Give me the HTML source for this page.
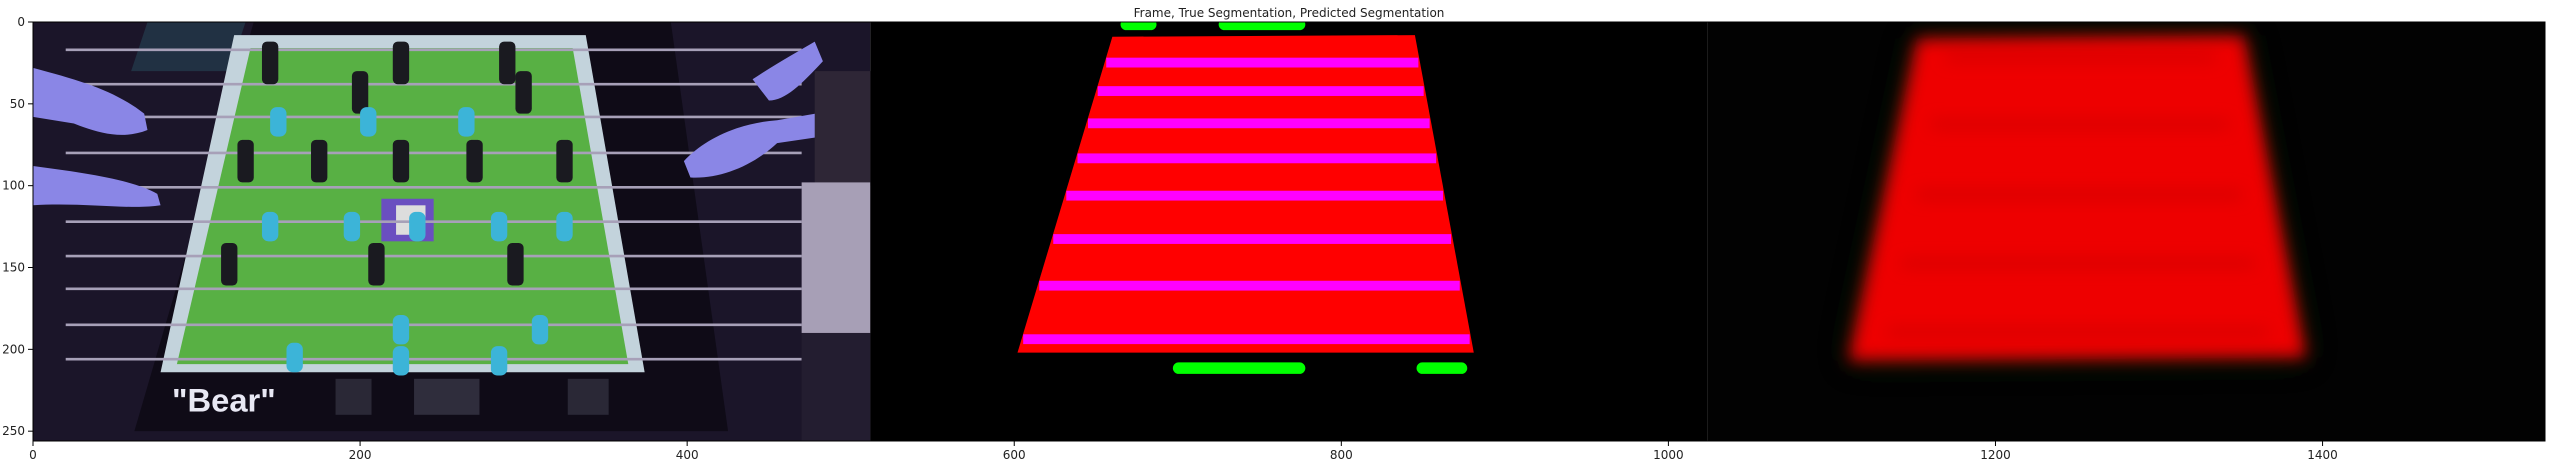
<!DOCTYPE html>
<html><head><meta charset="utf-8"><style>
html,body{margin:0;padding:0;background:#fff;}
svg{display:block;font-family:"DejaVu Sans","Liberation Sans",sans-serif;}
</style></head><body>
<svg id="fig" width="2554" height="465" viewBox="0 0 2554 465">
<defs>
<filter id="blur6" x="-20%" y="-20%" width="140%" height="140%"><feGaussianBlur stdDeviation="5"/></filter>
<filter id="blur12" x="-30%" y="-30%" width="160%" height="160%"><feGaussianBlur stdDeviation="10"/></filter>
<clipPath id="clipImg"><rect x="0" y="0" width="1536" height="256"/></clipPath>
</defs>
<text x="1289" y="17" text-anchor="middle" font-size="12" fill="#222">Frame, True Segmentation, Predicted Segmentation</text>
<g id="img" transform="translate(33,22) scale(1.6354,1.6367)" clip-path="url(#clipImg)">
  <g>
    <rect x="0" y="0" width="512" height="256" fill="#1b1529"/>
    <polygon points="70,0 130,0 120,30 60,30" fill="#23384a" opacity="0.8"/>
    <polygon points="135,0 390,0 425,250 62,250" fill="#0f0b17"/>
    <polygon points="123,8 338,8 374,214 78,214" fill="#c3d3dc"/>
    <polygon points="133,16 330,16 364,209 88,209" fill="#58b044"/>
    <rect x="213" y="108" width="32" height="26" fill="#6a4fc0"/>
    <rect x="222" y="112" width="18" height="18" fill="#ddd"/>
    <g id="rods"></g>
    <g id="figs"></g>
    <text x="85" y="238" font-size="20" font-weight="bold" fill="#e8e8f4" font-family="Liberation Sans, sans-serif">"Bear"</text>
    <rect x="185" y="218" width="22" height="22" fill="#2a2836"/>
    <rect x="233" y="218" width="40" height="22" fill="#2f2d3c"/>
    <rect x="327" y="218" width="25" height="22" fill="#2a2836"/>
    <path d="M0,28 C30,36 50,42 68,56 L70,66 C55,72 40,68 25,62 L0,58 Z" fill="#8a86e6"/>
    <path d="M0,88 C30,92 60,96 76,105 L78,112 C60,115 30,110 0,112 Z" fill="#8a86e6"/>
    <path d="M398,85 C410,72 430,62 455,60 L490,54 L496,68 L455,74 C440,88 420,96 402,95 Z" fill="#8a86e6"/>
    <path d="M440,35 C455,25 468,18 478,12 L483,24 C470,38 460,48 450,48 Z" fill="#8a86e6"/>
    <rect x="478" y="30" width="34" height="70" fill="#2e2636"/>
    <rect x="470" y="98" width="42" height="92" fill="#a79fb6"/>
    <rect x="470" y="190" width="42" height="66" fill="#231d30"/>
  </g>
  <g>
    <rect x="512" y="0" width="512" height="256" fill="#000"/>
    <polygon id="truePoly" fill="#ff0000"/>
    <g id="stripes"></g>
    <g id="blobs"></g>
  </g>
  <g>
    <rect x="1024" y="0" width="512" height="256" fill="#020202"/>
    <polygon id="predGlow" fill="#0a2a0a" opacity="0.7" filter="url(#blur12)"/>
    <polygon id="predPoly" fill="#ee0000" filter="url(#blur6)"/>
    <g id="predSpots" filter="url(#blur6)"></g>
  </g>
</g>
<rect x="33" y="22" width="2512" height="419" fill="none" stroke="#000" stroke-width="1"/>
<g id="xaxis"></g>
<g id="yaxis"></g>
</svg>
<script>
const xTicks=[0,200,400,600,800,1000,1200,1400];
const yTicks=[0,50,100,150,200,250];
const rodY=[17,38,58,80,101,122,143,163,185,206];
const stripeY=[24.8,42.2,61.9,83.3,106.1,132.6,161.1,193.8];
const trueCorners=[[660,9],[845,8],[881,202],[602,202]];
const blobs=[[665,687,1.5],[725,778,1.5],[697,778,211.5],[846,877,211.5]];
const predCorners=[[1152,10],[1352,8],[1390,205],[1110,207]];
const cyanPlayers=[[150,58],[205,58],[265,58],[145,122],[195,122],[235,122],[285,122],[325,122],[225,185],[310,185],[160,202],[225,204],[285,204]];
const blackPlayers=[[145,20],[225,20],[290,20],[200,38],[300,38],[130,80],[175,80],[225,80],[270,80],[325,80],[120,143],[210,143],[295,143]];
const NS='http://www.w3.org/2000/svg';
const X0=33,Y0=22,SX=1.6354,SY=1.6367;
const xs=v=>X0+v*SX, ys=v=>Y0+v*SY;
function mk(t,a,p){const e=document.createElementNS(NS,t);for(const k in a)e.setAttribute(k,a[k]);p.appendChild(e);return e;}
const xa=document.getElementById('xaxis');
xTicks.forEach(v=>{
  const l=mk('line',{x1:xs(v),x2:xs(v),y1:441,y2:446,stroke:'#000','stroke-width':1},xa);
  
  
  const t=mk('text',{x:xs(v),y:459,'text-anchor':'middle','font-size':12,fill:'#222'},xa);
  t.textContent=v;
  
  
});
const ya=document.getElementById('yaxis');
yTicks.forEach(v=>{
  const l=mk('line',{x1:28,x2:33,y1:ys(v),y2:ys(v),stroke:'#000','stroke-width':1},ya);
  
  
  const t=mk('text',{x:25,y:ys(v)+4,'text-anchor':'end','font-size':12,fill:'#222'},ya);
  t.textContent=v;
  
  
});
const rods=document.getElementById('rods');
rodY.forEach(y=>{
  const r=mk('line',{x1:20,x2:470,y1:y,y2:y,stroke:'#a7a0b8','stroke-width':1.6},rods);
  
  
});
const figs=document.getElementById('figs');
blackPlayers.forEach(([x,y])=>{
  const f=mk('rect',{x:x-5,y:y-8,width:10,height:26,rx:3,fill:'#1a1a20'},figs);
  
  
});
cyanPlayers.forEach(([x,y])=>{
  const f=mk('rect',{x:x-5,y:y-6,width:10,height:18,rx:4,fill:'#3cb4d8'},figs);
  
  
});
document.getElementById('truePoly').setAttribute('points',trueCorners.map(p=>p.join(',')).join(' '));
function edgeX(c,y){const [a,b,cc,d]=c;const t=(y-a[1])/(d[1]-a[1]);const l=a[0]+(d[0]-a[0])*t;const t2=(y-b[1])/(cc[1]-b[1]);const r=b[0]+(cc[0]-b[0])*t2;return [l,r];}
const st=document.getElementById('stripes');
stripeY.forEach(y=>{
  const [l,r]=edgeX(trueCorners,y);
  const s=mk('rect',{x:l+1,y:y-3,width:r-l-2,height:6,fill:'#ff00ff'},st);
  
  
});
const bl=document.getElementById('blobs');
blobs.forEach(([a,b,y])=>{
  const e=mk('rect',{x:a,y:y-3.5,width:b-a,height:7,rx:3.5,fill:'#00ff00'},bl);
  
  
});
const pp=predCorners.map(p=>p.join(',')).join(' ');
document.getElementById('predPoly').setAttribute('points',pp);
document.getElementById('predGlow').setAttribute('points',pp);
const sp=document.getElementById('predSpots');
rodY.forEach((y,i)=>{
  if(i%2)return;
  const [l,r]=edgeX(predCorners,y+5);
  const s=mk('rect',{x:l+20,y:y+2,width:r-l-40,height:5,fill:'#b80000',opacity:0.5},sp);
  
  
});
</script>
</body></html>
